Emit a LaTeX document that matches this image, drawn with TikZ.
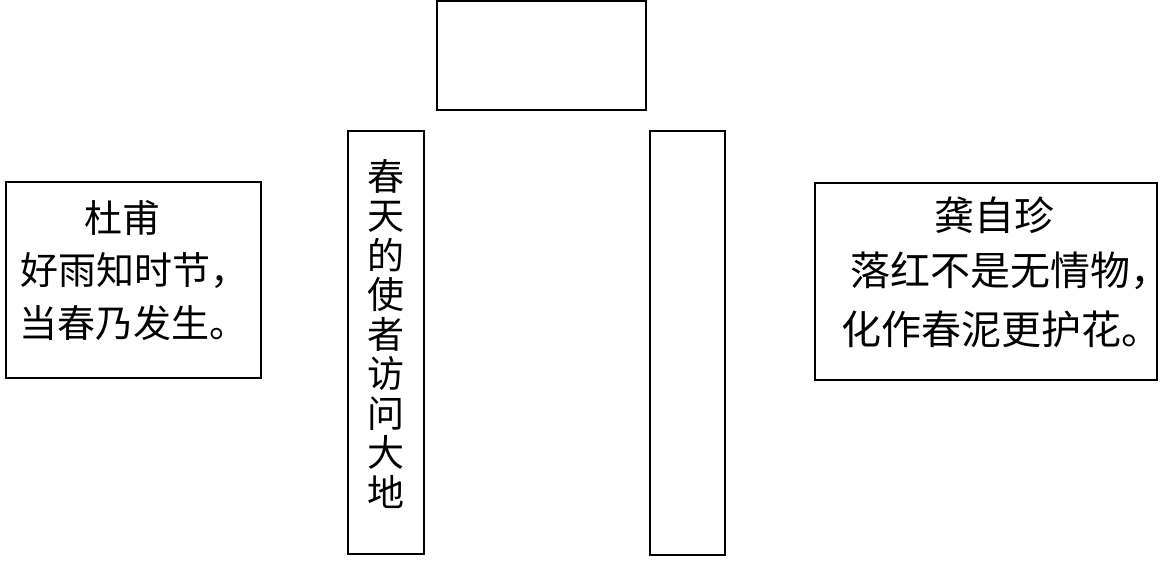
\documentclass[tikz,border=0pt]{standalone}
\usepackage{fontspec}
\newfontfamily\cjk{Noto Sans CJK SC}
\begin{document}
\begin{tikzpicture}[x=1pt,y=-1pt,
  frame/.style={draw=black,line width=2pt,rectangle,inner sep=0pt},
  lefttxt/.style={font=\cjk\fontsize{38}{39.5}\selectfont,inner sep=0pt,anchor=base west},
  righttxt/.style={font=\cjk\fontsize{40}{42}\selectfont,inner sep=0pt,anchor=base west}]
\useasboundingbox (0,0) rectangle (1164,567);
\node[frame,minimum width=255pt,minimum height=196pt] (left) at (133.5,280) {};
\node[frame,minimum width=76pt,minimum height=423pt] (vert) at (386,342.5) {};
\node[frame,minimum width=209pt,minimum height=109pt] (top) at (541.5,55.5) {};
\node[frame,minimum width=75pt,minimum height=424pt] (rempty) at (687.5,343) {};
\node[frame,minimum width=342pt,minimum height=197pt] (right) at (986,281.5) {};
\node[lefttxt] (lt1) at (84,232) {杜甫};
\node[lefttxt] (lt2) at (20,284) {好雨知时节\rlap{，}};
\node[lefttxt] (lt3) at (19,337) {当春乃发生\rlap{。}};
\node[font=\cjk\fontsize{37}{39.5}\selectfont,inner sep=0pt,align=center] (vtext) at (386,334) {春\\天\\的\\使\\者\\访\\问\\大\\地};
\node[righttxt] (rt1) at (934,230) {龚自珍};
\node[righttxt] (rt2) at (850,285) {落红不是无情物\rlap{，}};
\node[righttxt] (rt3) at (841,344) {化作春泥更护花\rlap{。}};
\end{tikzpicture}
\end{document}
